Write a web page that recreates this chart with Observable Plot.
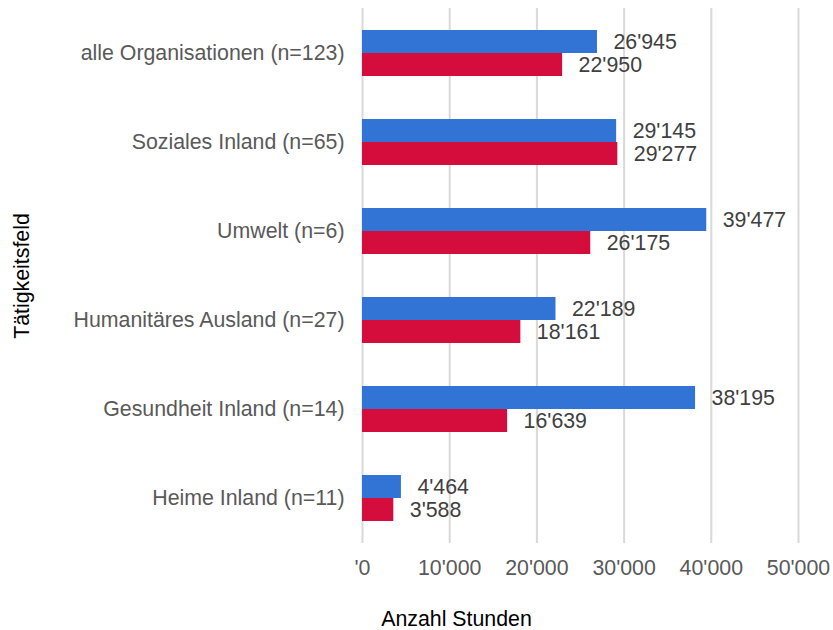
<!DOCTYPE html>
<html><head><meta charset="utf-8">
<script src="https://cdn.jsdelivr.net/npm/d3@7"></script>
<script src="https://cdn.jsdelivr.net/npm/@observablehq/plot@0.6"></script>
<style>
body{margin:0;background:#fff;font-family:"Liberation Sans",Arial,sans-serif;}
</style></head><body><div id="chart"></div>
<script>
const categories = ["alle Organisationen (n=123)","Soziales Inland (n=65)","Umwelt (n=6)","Humanitäres Ausland (n=27)","Gesundheit Inland (n=14)","Heime Inland (n=11)"];
const blueValues = [26945, 29145, 39477, 22189, 38195, 4464];
const redValues  = [22950, 29277, 26175, 18161, 16639, 3588];
const xTicks = [0, 10000, 20000, 30000, 40000, 50000];
const xTickLabels = ["'0","10'000","20'000","30'000","40'000","50'000"];

const fs = 21.33;
const fmt = d3.formatLocale({thousands:"'", grouping:[3], decimal:".", currency:["",""]}).format(",d");
const blue = categories.map((c,i)=>({cat:c, v:blueValues[i]}));
const red = categories.map((c,i)=>({cat:c, v:redValues[i]}));

const chart = Plot.plot({
  width: 833, height: 630,
  marginLeft: 362, marginRight: 35, marginTop: 8, marginBottom: 87,
  style: {fontFamily: '"Liberation Sans", Arial, sans-serif', fontSize: fs + "px", background: "#fff"},
  x: {domain: [0, 50000]},
  y: {domain: categories, paddingInner: 0.48, paddingOuter: 0.24},
  marks: [
    Plot.gridX(xTicks, {stroke: "#d9d9d9", strokeOpacity: 1, strokeWidth: 2}),
    Plot.barX(blue, {y: "cat", x: "v", fill: "#3273d6", insetBottom: 23}),
    Plot.barX(red, {y: "cat", x: "v", fill: "#d50d3c", insetTop: 23}),
    Plot.text(blue, {y: "cat", x: "v", text: d => fmt(d.v), dx: 16, dy: -11.5, textAnchor: "start", fill: "#404040", fontSize: fs}),
    Plot.text(red, {y: "cat", x: "v", text: d => fmt(d.v), dx: 16, dy: 11.5, textAnchor: "start", fill: "#404040", fontSize: fs}),
    Plot.axisX(xTicks, {tickSize: 0, tickPadding: 16, tickFormat: (d,i) => xTickLabels[i], label: null, color: "#595959", fontSize: fs}),
    Plot.axisY({tickSize: 0, tickPadding: 18, label: null, color: "#595959", fontSize: fs}),
    Plot.axisY({ticks: [], tickSize: 0, label: "Tätigkeitsfeld", labelAnchor: "center", labelOffset: 349, labelArrow: "none", color: "#000", fontSize: fs}),
    Plot.text(["Anzahl Stunden"], {frameAnchor: "bottom-left", dx: 94, dy: 82, textAnchor: "middle", fill: "#000", fontSize: fs})
  ]
});
document.getElementById("chart").appendChild(chart);
</script></body></html>
